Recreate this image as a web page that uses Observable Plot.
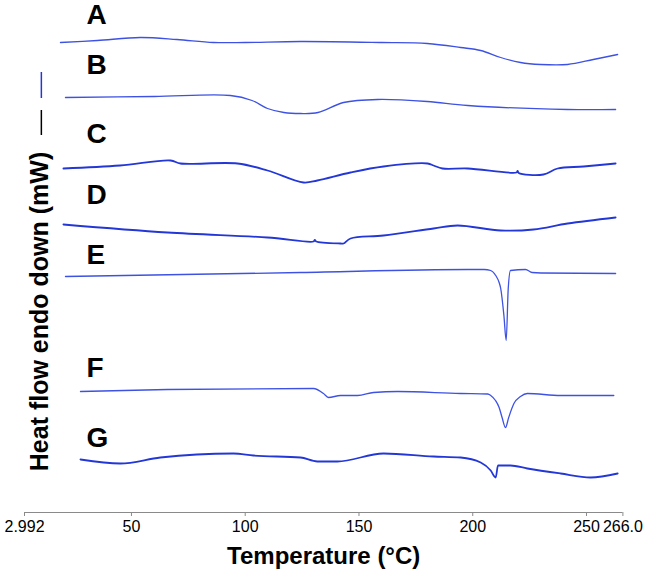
<!DOCTYPE html>
<html>
<head>
<meta charset="utf-8">
<script src="https://cdn.jsdelivr.net/npm/d3@7"></script>
<script src="https://cdn.jsdelivr.net/npm/@observablehq/plot@0.6"></script>
<style>
  html, body { margin: 0; padding: 0; background: #fff; }
  #chart { width: 648px; height: 576px; }
</style>
</head>
<body>
<div id="chart"></div>
<script>
// Series names (curve labels)
const series = ["A", "B", "C", "D", "E", "F", "G"];

// Temperature (°C) / heat flow (arbitrary offset units, endo down) per curve
const tA = [18.8, 35, 53.9, 70, 86, 100, 124.3, 160, 180, 194.7, 203.5, 212.3, 221, 229.8, 241.7, 253, 263.7];
const hA = [47.0, 47.2, 47.5, 47.3, 47.0, 47.0, 47.1, 47.0, 46.9, 46.5, 46.2, 45.5, 45.0, 44.8, 44.8, 45.3, 45.8];

const tB = [21.0, 60, 93.5, 103, 109.8, 117, 124.3, 132, 143.2, 158.2, 180, 197.8, 241.7, 262.8];
const hB = [41.5, 41.6, 41.7, 41.2, 40.4, 40.0, 39.9, 40.0, 41.0, 41.3, 41.1, 40.7, 40.3, 40.3];

const tC = [20.1, 45, 67.2, 71.6, 96.6, 109.8, 125.6, 131.7, 146.3, 160.8, 180.2, 182.8, 186.7, 197.8, 219.2, 219.7, 220.2, 231.1, 237.3, 248.7, 262.8];
const hC = [34.4, 34.7, 35.2, 34.9, 34.9, 34.2, 33.0, 33.2, 34.0, 34.6, 34.9, 34.7, 34.4, 34.4, 34.0, 34.15, 33.95, 33.8, 34.4, 34.6, 34.9];

const tD = [20.1, 65.8, 109.8, 130.0, 130.6, 131.2, 141.9, 143.2, 146.3, 160.8, 182.8, 193.3, 212.3, 226.7, 241.7, 262.8];
const hD = [28.8, 28.0, 27.5, 27.1, 27.25, 27.1, 26.9, 26.9, 27.4, 27.7, 28.4, 28.7, 28.2, 28.3, 28.9, 29.5];

const tE = [21.0, 124.3, 197.8, 205, 207.9, 210.1, 211.6, 212.3, 213.7, 214.7, 215.6, 216.6, 223.2, 226.1, 230, 262.8];
const hE = [23.6, 24.0, 24.3, 24.3, 24.2, 23.7, 23.0, 22.4, 19.7, 17.2, 22.4, 24.2, 24.3, 24.0, 23.95, 23.9];

const tF = [27.6, 65.8, 130.0, 134.4, 136.6, 141.9, 149.4, 156.4, 167.0, 194.7, 206.6, 207.9, 210, 211.6, 212.9, 214.4, 215.8, 218.1, 221, 224, 238.6, 262];
const hF = [12.1, 12.3, 12.4, 11.9, 11.5, 11.7, 11.7, 12.0, 12.1, 11.9, 11.85, 11.7, 11.2, 10.5, 9.5, 8.5, 9.5, 10.9, 11.6, 11.9, 11.7, 11.7];

const tG = [27.6, 45.1, 62.7, 94.8, 103.6, 124.3, 131.7, 140.5, 160.8, 182.8, 194.7, 203.5, 207.9, 210.1, 211.1, 216.6, 224, 238.6, 251.8, 263.7];
const hG = [5.3, 4.9, 5.5, 5.9, 5.7, 5.5, 5.1, 5.1, 5.9, 5.6, 5.5, 5.0, 4.2, 3.5, 4.7, 4.7, 4.4, 3.9, 3.5, 3.9];

// X axis ticks
const xTicks = [2.992, 50, 100, 150, 200, 250, 266.0];
const xTickLabels = ["2.992", "50", "100", "150", "200", "250", "266.0"];

// Scale bar (heat-flow span of each segment)
const scaleBarBlue = [44.0, 41.4];
const scaleBarBlack = [40.2, 37.7];

// Curve label anchors (heat-flow units)
const labelH = [49.7, 44.7, 37.85, 31.7, 25.7, 14.4, 7.4];

const temps = [tA, tB, tC, tD, tE, tF, tG];
const flows = [hA, hB, hC, hD, hE, hF, hG];
const rows = [];
series.forEach((s, i) => temps[i].forEach((t, j) => rows.push({s, T: t, H: flows[i][j]})));
const thin = new Set(["A", "B", "E", "F"]);
const smooth = new Set(["A", "B", "C", "D"]);

const lineMark = (filter, stroke, strokeWidth, curve) =>
  Plot.line(rows.filter(filter), {x: "T", y: "H", z: "s", stroke, strokeWidth, curve});

const chart = Plot.plot({
  width: 648,
  height: 576,
  marginLeft: 24,
  marginRight: 25.6,
  marginTop: 0,
  marginBottom: 64,
  x: {domain: [2.992, 266.0]},
  y: {domain: [0, 51.2], axis: null},
  style: {fontFamily: "'Liberation Sans', Arial, sans-serif", background: "#fff", color: "#000"},
  marks: [
    Plot.ruleY([0], {stroke: "#8a8a8a", strokeWidth: 1}),
    Plot.axisX({ticks: xTicks, tickFormat: (d, i) => xTickLabels[i], tickSize: 4, tickPadding: 4,
      fontSize: 16, stroke: "#8a8a8a", fill: "#000", label: null}),
    lineMark(d => thin.has(d.s) && smooth.has(d.s), "#3d52e2", 1.3, "catmull-rom"),
    lineMark(d => thin.has(d.s) && !smooth.has(d.s), "#3d52e2", 1.3, "monotone-x"),
    lineMark(d => !thin.has(d.s) && smooth.has(d.s), "#2337d6", 1.8, "catmull-rom"),
    lineMark(d => !thin.has(d.s) && !smooth.has(d.s), "#2337d6", 1.8, "monotone-x"),
    Plot.text(series, {x: () => 30.2, y: (d, i) => labelH[i], text: d => d, textAnchor: "start",
      fontWeight: "bold", fontSize: 28, fill: "#000"}),
    Plot.ruleX([10.4], {y1: scaleBarBlue[0], y2: scaleBarBlue[1], stroke: "#2337d6", strokeWidth: 1.5}),
    Plot.ruleX([10.4], {y1: scaleBarBlack[0], y2: scaleBarBlack[1], stroke: "#000", strokeWidth: 1.5}),
    Plot.text(["Heat flow endo down (mW)"], {frameAnchor: "left", dx: 15, dy: 55, rotate: -90,
      textAnchor: "middle", lineAnchor: "middle", fontWeight: "bold", fontSize: 25, fill: "#000"}),
    Plot.text(["Temperature (°C)"], {frameAnchor: "bottom", dy: 44, textAnchor: "middle",
      lineAnchor: "middle", fontWeight: "bold", fontSize: 24, fill: "#000"})
  ]
});
document.getElementById("chart").appendChild(chart);
</script>
</body>
</html>
